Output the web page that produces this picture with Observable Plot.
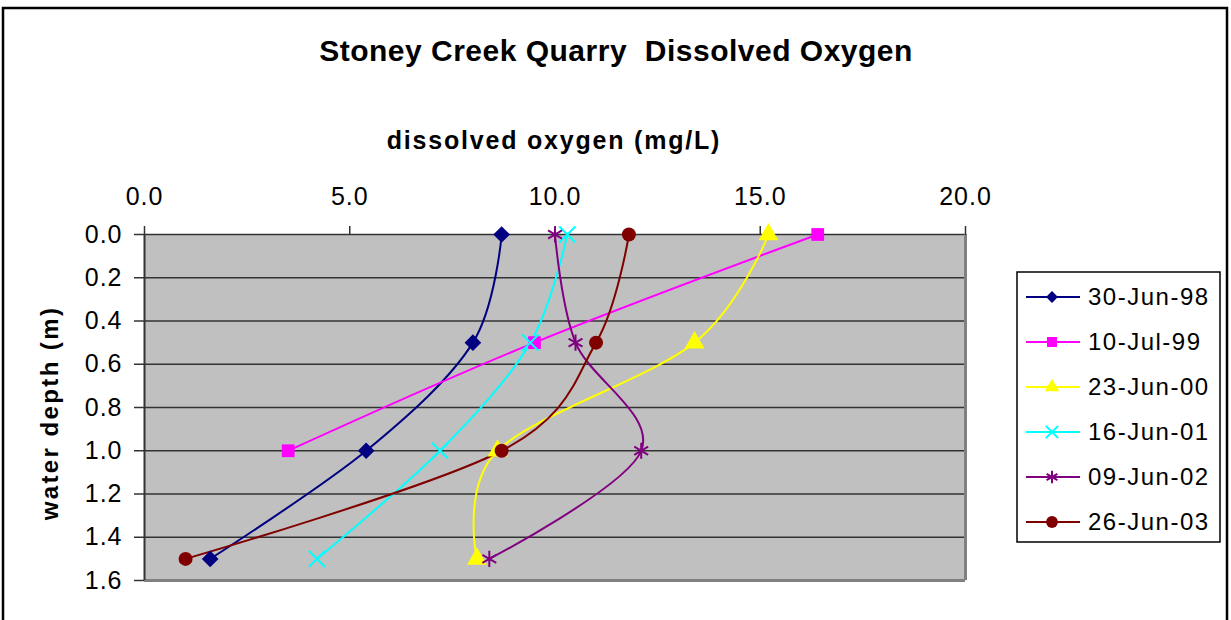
<!DOCTYPE html>
<html><head><meta charset="utf-8">
<script src="https://cdn.jsdelivr.net/npm/d3@7"></script>
<script src="https://cdn.jsdelivr.net/npm/@observablehq/plot@0.6"></script>
<style>
body{margin:0;background:#fff;}
svg{display:block;font-family:"Liberation Sans",Arial,sans-serif;}
</style>
</head><body><div id="chart"></div>
<script>
// ---- data ----
const dates = ["30-Jun-98","10-Jul-99","23-Jun-00","16-Jun-01","09-Jun-02","26-Jun-03"];
const depths = [0.0, 0.5, 1.0, 1.5];
const do98 = [8.7, 8.0, 5.4, 1.6];
const do99 = [16.4, 9.5, 3.5];
const do00 = [15.2, 13.4, 8.6, 8.1];
const do01 = [10.3, 9.4, 7.2, 4.2];
const do02 = [10.0, 10.5, 12.1, 8.4];
const do03 = [11.8, 11.0, 8.7, 1.0];
const xTicks = [0, 5, 10, 15, 20];
const yTicks = [0, 0.2, 0.4, 0.6, 0.8, 1.0, 1.2, 1.4, 1.6];
const titleText = "Stoney Creek Quarry  Dissolved Oxygen";
const xLabel = "dissolved oxygen (mg/L)";
const yLabel = "water depth (m)";

// ---- styles ----
const colors = ["#000080","#FF00FF","#FFFF00","#00FFFF","#800080","#800000"];
const symbols = ["diamond2","square","triangle","times","asterisk","circle"];
const strokeSymbols = new Set(["times","asterisk"]);
const dotR = [7.5, 7.2, 7.4, 7.4, 7.6, 7.0];

const series = [do98, do99, do00, do01, do02, do03];
const data = series.flatMap((vals, i) => vals.map((v, j) => ({date: dates[i], depth: depths[j], oxygen: v})));

const W = 1231, H = 620;
const gridColor = "#333333";

const dotMarks = dates.map((d, i) => {
  const sub = data.filter(r => r.date === d);
  return strokeSymbols.has(symbols[i])
    ? Plot.dot(sub, {x: "oxygen", y: "depth", symbol: () => symbols[i], r: dotR[i], stroke: colors[i], strokeWidth: 2, fill: "none"})
    : Plot.dot(sub, {x: "oxygen", y: "depth", symbol: () => symbols[i], r: dotR[i], fill: colors[i], stroke: "none"});
});

const chart = Plot.plot({
  width: W, height: H,
  marginLeft: 144, marginRight: 266, marginTop: 234, marginBottom: 40,
  style: {fontFamily: '"Liberation Sans", Arial, sans-serif', background: "#fff", overflow: "visible"},
  x: {domain: [0, 20]},
  y: {domain: [0, 1.6], reverse: true},
  symbol: {type: "identity"},
  marks: [
    Plot.frame({fill: "#c0c0c0", stroke: "none"}),
    Plot.ruleY(yTicks.slice(0, -1), {stroke: gridColor, strokeWidth: 1.5}),
    Plot.ruleX([20], {stroke: "#808080", strokeWidth: 3}),
    Plot.ruleY([1.6], {stroke: "#808080", strokeWidth: 3}),
    Plot.ruleX([0], {stroke: gridColor, strokeWidth: 2}),
    Plot.axisX({anchor: "top", ticks: xTicks, tickFormat: d3.format(".1f"), tickSize: 9, tickPadding: 21,
      fontSize: 25, label: null, stroke: gridColor, strokeWidth: 1.5, fill: "#000"}),
    Plot.axisY({anchor: "left", ticks: yTicks, tickFormat: d3.format(".1f"), tickSize: 10, tickPadding: 12,
      fontSize: 25, label: null, stroke: gridColor, strokeWidth: 1.5, fill: "#000"}),
    Plot.line(data, {x: "oxygen", y: "depth", z: "date", stroke: d => colors[dates.indexOf(d.date)], strokeWidth: 2, curve: "cardinal"}),
    ...dotMarks
  ]
});

const svg = d3.select(chart);
svg.selectAll("g[aria-label='x-axis tick label'] text, g[aria-label='y-axis tick label'] text").style("letter-spacing", "1px");

// outer border
svg.insert("rect", ":first-child").attr("x", 3).attr("y", 8).attr("width", 1224).attr("height", 640)
  .attr("fill", "#fff").attr("stroke", "#000").attr("stroke-width", 2.5);

// title
svg.append("text").attr("x", 616).attr("y", 61).attr("text-anchor", "middle").attr("fill", "#000")
  .attr("font-size", 30).attr("font-weight", "bold").style("letter-spacing", "0.5px").text(titleText);
// x label
svg.append("text").attr("x", 554).attr("y", 149).attr("text-anchor", "middle").attr("fill", "#000")
  .attr("font-size", 25).attr("font-weight", "bold").style("letter-spacing", "1.8px").text(xLabel);
// y label
svg.append("text").attr("transform", "translate(58,413) rotate(-90)").attr("text-anchor", "middle").attr("fill", "#000")
  .attr("font-size", 24).attr("font-weight", "bold").style("letter-spacing", "2.4px").text(yLabel);

// legend
const d3Sym = {diamond2: d3.symbolDiamond2, square: d3.symbolSquare, triangle: d3.symbolTriangle,
  times: d3.symbolTimes, asterisk: d3.symbolAsterisk, circle: d3.symbolCircle};
const legSize = [90, 100, 90, 100, 110, 110];
const lg = svg.append("g");
lg.append("rect").attr("x", 1017).attr("y", 272).attr("width", 203).attr("height", 270)
  .attr("fill", "#fff").attr("stroke", "#000").attr("stroke-width", 1.5);
dates.forEach((d, i) => {
  const y = 297 + i * 45;
  lg.append("line").attr("x1", 1026).attr("x2", 1080).attr("y1", y).attr("y2", y)
    .attr("stroke", colors[i]).attr("stroke-width", 2);
  const p = lg.append("path").attr("transform", `translate(1052,${y})`)
    .attr("d", d3.symbol(d3Sym[symbols[i]], legSize[i])());
  if (strokeSymbols.has(symbols[i])) p.attr("fill", "none").attr("stroke", colors[i]).attr("stroke-width", 2);
  else p.attr("fill", colors[i]);
  lg.append("text").attr("x", 1088).attr("y", y).attr("dy", "0.35em").attr("font-size", 24)
    .attr("text-anchor", "start").attr("fill", "#000")
    .style("letter-spacing", "1.5px").text(d);
});

document.getElementById("chart").appendChild(chart);
</script>
</body></html>
